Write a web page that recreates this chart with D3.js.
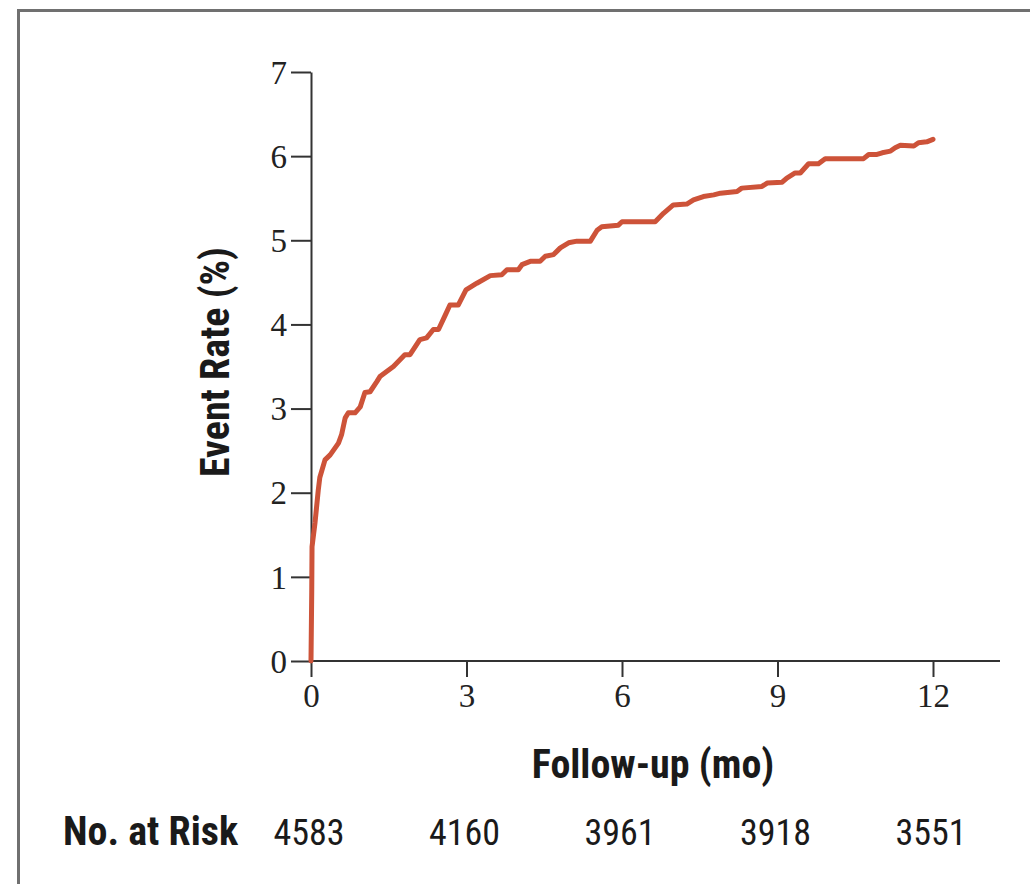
<!DOCTYPE html>
<html>
<head>
<meta charset="utf-8">
<script src="https://cdn.jsdelivr.net/npm/d3@7"></script>
<style>
  html, body { margin: 0; padding: 0; background: #fff; }
  svg { display: block; }
  .tick text { font-family: "Liberation Serif", "DejaVu Serif", serif; font-size: 33px; fill: #222; }
  .lbl { font-family: "Liberation Sans Narrow", "Roboto Condensed", "DejaVu Sans Condensed", sans-serif; font-weight: bold; fill: #1a1a1a; }
  .risk { font-family: "Liberation Sans Narrow", "Roboto Condensed", "DejaVu Sans Condensed", sans-serif; fill: #1a1a1a; }
</style>
</head>
<body>
<svg id="chart" width="1030" height="884"></svg>
<script>
// ---- data ----
const months = [0, 0.014, 0.02, 0.077, 0.14, 0.17, 0.27, 0.37, 0.53, 0.59, 0.66, 0.72, 0.85, 0.95, 1.04, 1.14, 1.27, 1.33, 1.59, 1.81, 1.91, 2.10, 2.23, 2.36, 2.46, 2.59, 2.68, 2.84, 2.99, 3.20, 3.46, 3.68, 3.78, 4.00, 4.07, 4.23, 4.42, 4.52, 4.68, 4.81, 4.97, 5.13, 5.39, 5.52, 5.61, 5.93, 6.00, 6.64, 6.80, 6.99, 7.25, 7.38, 7.57, 7.77, 7.90, 8.22, 8.31, 8.70, 8.80, 9.09, 9.18, 9.34, 9.44, 9.60, 9.79, 9.92, 10.66, 10.76, 10.92, 11.02, 11.18, 11.27, 11.37, 11.63, 11.72, 11.88, 12.0];
const eventRate = [0, 0.81, 1.36, 1.64, 2.03, 2.18, 2.39, 2.45, 2.59, 2.69, 2.89, 2.95, 2.95, 3.02, 3.19, 3.20, 3.32, 3.38, 3.50, 3.64, 3.64, 3.82, 3.84, 3.94, 3.94, 4.11, 4.23, 4.23, 4.41, 4.49, 4.58, 4.59, 4.65, 4.65, 4.71, 4.75, 4.75, 4.81, 4.83, 4.91, 4.97, 4.99, 4.99, 5.12, 5.16, 5.18, 5.22, 5.22, 5.32, 5.42, 5.43, 5.48, 5.52, 5.54, 5.56, 5.58, 5.62, 5.64, 5.68, 5.69, 5.74, 5.80, 5.80, 5.91, 5.91, 5.97, 5.97, 6.02, 6.02, 6.04, 6.06, 6.10, 6.13, 6.12, 6.16, 6.17, 6.20];
const xTicks = [0, 3, 6, 9, 12];
const yTicks = [0, 1, 2, 3, 4, 5, 6, 7];
const riskMonths = [0, 3, 6, 9, 12];
const noAtRisk = [4583, 4160, 3961, 3918, 3551];
const yTitle = "Event Rate (%)";
const xTitle = "Follow-up (mo)";
const riskTitle = "No. at Risk";

// ---- drawing ----
const svg = d3.select("#chart");
const x = d3.scaleLinear().domain([0, 12]).range([311, 933]);
const y = d3.scaleLinear().domain([0, 7]).range([661, 72]);
const axisColor = "#333";

// frame
svg.append("line").attr("x1", 17).attr("x2", 1030).attr("y1", 10.5).attr("y2", 10.5)
  .attr("stroke", "#707070").attr("stroke-width", 3);
svg.append("line").attr("x1", 18.5).attr("x2", 18.5).attr("y1", 9).attr("y2", 884)
  .attr("stroke", "#707070").attr("stroke-width", 3);

// y axis
const gy = svg.append("g").attr("transform", `translate(${x(0)},0)`)
  .call(d3.axisLeft(y).tickValues(yTicks).tickFormat(d3.format("d")).tickSize(20).tickPadding(4).tickSizeOuter(0));
gy.select(".domain").attr("stroke", axisColor).attr("stroke-width", 2);
gy.selectAll(".tick line").attr("stroke", axisColor).attr("stroke-width", 2);
gy.selectAll(".tick text").attr("dy", "0.34em");

// x axis
const gx = svg.append("g").attr("transform", `translate(0,${y(0)})`)
  .call(d3.axisBottom(x).tickValues(xTicks).tickFormat(d3.format("d")).tickSize(16).tickPadding(7).tickSizeOuter(0));
gx.select(".domain").remove();
gx.append("line").attr("x1", x(0) - 1).attr("x2", 1000).attr("y1", 0).attr("y2", 0)
  .attr("stroke", axisColor).attr("stroke-width", 2);
gx.selectAll(".tick line").attr("stroke", axisColor).attr("stroke-width", 2);

// curve
const pts = months.map((m, i) => [m, eventRate[i]]);
svg.append("path")
  .datum(pts)
  .attr("fill", "none")
  .attr("stroke", "#cd5339")
  .attr("stroke-width", 5)
  .attr("stroke-linejoin", "round")
  .attr("stroke-linecap", "round")
  .attr("d", d3.line().x(d => x(d[0])).y(d => y(d[1])));

// titles
svg.append("text").attr("class", "lbl")
  .attr("transform", `translate(229,362) rotate(-90)`)
  .attr("text-anchor", "middle").attr("font-size", 40).text(yTitle);
svg.append("text").attr("class", "lbl")
  .attr("x", 653).attr("y", 778).attr("text-anchor", "middle").attr("font-size", 40).text(xTitle);

// at risk row
svg.append("text").attr("class", "lbl")
  .attr("x", 63).attr("y", 845).attr("font-size", 40).text(riskTitle);
svg.selectAll("text.risk").data(noAtRisk).join("text").attr("class", "risk")
  .attr("x", (d, i) => x(riskMonths[i]) - 2).attr("y", 845)
  .attr("text-anchor", "middle").attr("font-size", 36).text(d => d);
</script>
</body>
</html>
